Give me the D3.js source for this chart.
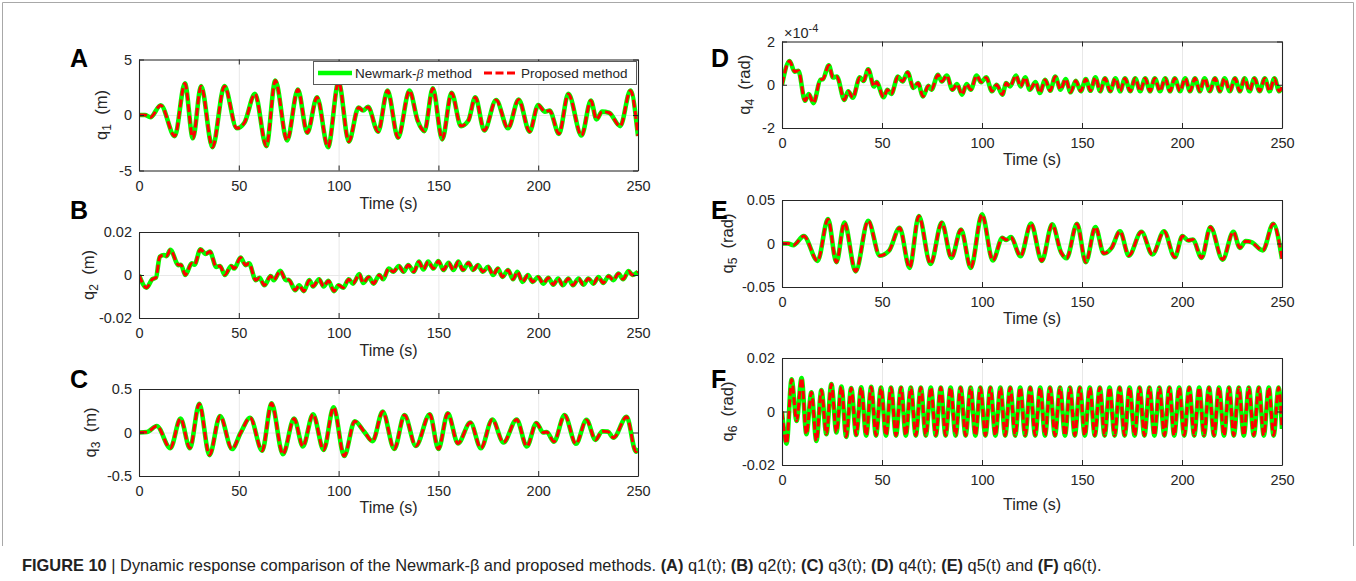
<!DOCTYPE html>
<html><head><meta charset="utf-8">
<script src="https://cdn.jsdelivr.net/npm/d3@7"></script>
<style>
body{margin:0;background:#fff}
svg{display:block}
text{font-family:"Liberation Sans",Arial,Helvetica,sans-serif}
</style>
</head><body>
<svg id="chart" width="1356" height="581"></svg>
<script>
// ---------- DATA ----------
const timeTicks = [0, 50, 100, 150, 200, 250];
const seriesNames = ["Newmark-β method", "Proposed method"];

// [time (s), value] turning points of each response
const q1 = [[0,0],[3,0],[5.7,-0.2],[10.9,0.88],[17.9,-1.9],[23,2.85],[27,-2.1],[31.1,2.6],[36.8,-2.9],[42.8,2.6],[49,-1.2],[52.8,-0.7],[58.1,1.9],[63.8,-2.8],[68.3,3.1],[74.2,-2.3],[79.6,2.3],[84.3,-1.6],[89.2,1.6],[94.7,-2.9],[100,3.0],[105.1,-2.4],[110,0.67],[112.3,0.4],[114.7,0.73],[119.8,-1.5],[124.5,2.2],[129.8,-2.05],[135.5,2.2],[139.6,-0.5],[143,-1.45],[147.2,2.4],[151.9,-2.2],[156.6,2.0],[161.3,-1.0],[165,-0.5],[168.5,1.6],[173,-1.4],[178.9,1.35],[184.9,-1.2],[190.2,1.4],[195.7,-1.5],[200,0.9],[203.4,0.3],[205.7,0.4],[210.4,-1.7],[215.1,1.9],[221.7,-1.85],[226.4,1.3],[229.2,-0.4],[232,0.3],[235.5,0.2],[241.1,-1.0],[246.2,2.2],[250,-1.9]];

const q2 = [[0,0],[3.8,-0.0059],[6.6,-0.002],[8.5,-0.0012],[10.4,0.0085],[12.5,0.0093],[13.8,0.0088],[15.7,0.0117],[19.8,0.0046],[21,0.0048],[23.2,0],[26.4,0.0054],[27.8,0.0048],[30.8,0.012],[33.4,0.0098],[35.5,0.0109],[38.7,0.0038],[40.6,0.0042],[43,0],[46.2,0.0042],[47.7,0.003],[50.9,0.0081],[53.4,0.0046],[55.1,0.0054],[58.5,-0.0024],[60.4,-0.0013],[62.8,-0.0048],[66,-0.0005],[67.5,-0.0024],[70.8,0.002],[73.6,-0.0024],[75,-0.0022],[78.3,-0.0071],[80.2,-0.0048],[82.6,-0.0075],[85.3,-0.0024],[87.2,-0.0053],[90.2,-0.002],[92.5,-0.0053],[94.9,-0.0027],[97.7,-0.0075],[100,-0.0048],[102.3,-0.0059],[105.1,-0.002],[107.2,-0.004],[110.4,0.0004],[112.3,-0.0037],[115.1,-0.0009],[117.5,-0.004],[120.4,0],[122.3,-0.002],[125.1,0.003],[127.4,0.0015],[130.2,0.0042],[132.5,0.0015],[134.9,0.0046],[137.7,0.0015],[140.2,0.0062],[142.5,0.0026],[144.9,0.0062],[147.5,0.003],[150,0.0065],[152.5,0.0023],[155.1,0.0057],[157.5,0.0023],[160,0.0062],[162.3,0.0023],[165.1,0.0057],[167.4,0.0023],[169.8,0.0046],[172.3,0.0015],[174.9,0.0038],[177.4,0],[179.8,0.003],[182.1,-0.0009],[184.9,0.0023],[187.4,-0.002],[189.6,0.0015],[192.1,-0.0032],[194.9,0],[197.2,-0.0032],[200,-0.0009],[202.5,-0.004],[205.1,-0.0013],[207.5,-0.0045],[210,-0.0016],[212.3,-0.0048],[215.1,-0.0016],[217.4,-0.0048],[220.2,-0.0016],[222.6,-0.0045],[225.1,-0.0016],[227.7,-0.004],[230.2,-0.0009],[232.6,-0.0037],[235.3,-0.0005],[237.7,-0.0024],[240.2,0.0007],[242.5,-0.002],[245.3,0.0018],[247.2,0],[250,0.0015]];

const q3 = [[0,0],[4,0.005],[8.9,0.075],[15.7,-0.18],[20.8,0.16],[25.5,-0.18],[30.2,0.33],[35.3,-0.26],[40.6,0.19],[46.6,-0.19],[51,0.0],[55.7,0.17],[61.7,-0.21],[66.4,0.335],[72.1,-0.25],[77.7,0.16],[82.1,-0.16],[87.2,0.21],[92.5,-0.2],[97.5,0.29],[102.8,-0.27],[108.1,0.13],[112.8,0.01],[117,-0.1],[122.1,0.24],[127.9,-0.19],[133,0.2],[138.7,-0.155],[145.7,0.21],[150,-0.19],[154.7,0.22],[159.8,-0.125],[166,0.115],[171.3,-0.18],[177,0.15],[182.6,-0.115],[189.2,0.15],[194.3,-0.16],[199.1,0.11],[202.5,0.0],[204.3,0.005],[207.9,-0.105],[213.2,0.2],[218.9,-0.13],[224.2,0.145],[228.7,-0.085],[232.1,0.015],[234.9,0.01],[237.7,-0.06],[244.3,0.18],[249,-0.22],[250,-0.18]];

// q4 values in units of 1e-4 rad
const q4 = [[0,0],[3.8,1.1],[6.3,0.6],[8.2,0.65],[11.5,-0.74],[13.4,-0.43],[15.7,-0.85],[19.2,0.23],[20.5,0.26],[23.4,0.9],[25.5,0.34],[27.4,0.38],[31.2,-0.7],[33.1,-0.3],[35.4,-0.6],[38.9,0.34],[40.8,0.18],[43.1,0.72],[46,-0.08],[47.3,0.12],[50.8,-0.58],[52.7,-0.23],[54.6,-0.43],[58,0.38],[60.3,0.15],[62.8,0.58],[65.7,-0.15],[68,0.08],[70.5,-0.54],[73.2,-0.05],[74.7,-0.23],[78,0.46],[79.9,0.15],[82.4,0.43],[85.2,-0.23],[87.5,0.03],[90,-0.46],[92.3,0.03],[94.4,-0.23],[97.3,0.42],[99.6,0.12],[102.1,0.34],[105,-0.3],[107.3,0],[110.2,-0.46],[112.1,0.08],[114,-0.08],[117,0.43],[119.3,-0.08],[121.6,0.34],[123.9,-0.23],[126.8,0.12],[128.9,-0.38],[131.6,0.23],[134.1,-0.28],[136.6,0.38],[139.3,-0.23],[141.8,0.26],[144.3,-0.35],[146.9,0.18],[149.4,-0.3],[151.9,0.26],[154.2,-0.28],[156.7,0.34],[159.1,-0.3],[161.5,0.3],[164.1,-0.3],[166.7,0.3],[169.1,-0.3],[171.5,0.3],[174.1,-0.3],[176.6,0.3],[179.1,-0.3],[181.6,0.3],[184,-0.3],[186.4,0.3],[189,-0.3],[191.6,0.3],[194,-0.3],[196.4,0.3],[199,-0.3],[201.6,0.3],[204,-0.3],[206.5,0.3],[208.9,-0.3],[211.3,0.3],[213.9,-0.3],[216.5,0.3],[218.9,-0.3],[221.3,0.3],[223.9,-0.3],[226.5,0.3],[228.9,-0.3],[231.3,0.3],[233.8,-0.3],[236.2,0.3],[238.8,-0.3],[241.4,0.3],[243.8,-0.3],[246.2,0.3],[248.6,-0.3],[250,-0.1]];

const q5 = [[0,0],[3,0],[5.7,-0.002],[10.9,0.0085],[17.8,-0.02],[23,0.028],[27.2,-0.0215],[31.2,0.024],[36.8,-0.032],[43.1,0.026],[48.9,-0.014],[53.6,-0.008],[58.8,0.018],[63.8,-0.028],[68.4,0.0315],[74.3,-0.0235],[79.9,0.024],[84.7,-0.0165],[89.5,0.016],[94.4,-0.028],[100,0.0335],[105.4,-0.0196],[110.2,0.0065],[112.1,0.004],[114.4,0.0073],[119.3,-0.0146],[124.5,0.023],[129.9,-0.02],[135.1,0.022],[139.5,-0.01],[142.3,-0.017],[147.5,0.0227],[151.9,-0.0215],[156.7,0.019],[160.9,-0.0115],[164.8,-0.005],[169,0.014],[173.4,-0.014],[179.7,0.0135],[185.2,-0.0127],[191,0.014],[196.4,-0.0158],[200.2,0.0085],[203.1,0.0035],[205.4,0.0046],[209.8,-0.0165],[214.2,0.019],[220.3,-0.0185],[225.7,0.0135],[228.9,-0.005],[231.8,0.0027],[234.7,0.0015],[240.4,-0.008],[245.6,0.0227],[250,-0.0177]];

const q6 = [[0,0],[2.3,-0.012],[4.8,0.012],[7.3,-0.0035],[9.8,0.0125],[12.2,-0.0085],[14.7,0.0072],[17.2,-0.011],[19.7,0.008],[22.2,-0.0085],[24.7,0.0103],[27.2,-0.0078],[29.7,0.0093],[32.1,-0.0095],[34.6,0.0088],[37.1,-0.0088],[39.6,0.009],[42.1,-0.009],[44.6,0.0092],[47,-0.009],[49.5,0.009],[52,-0.009],[54.5,0.009],[57,-0.009],[59.5,0.009],[61.9,-0.009],[64.4,0.009],[66.9,-0.009],[69.4,0.009],[71.9,-0.009],[74.4,0.009],[76.9,-0.009],[79.4,0.009],[81.8,-0.009],[84.3,0.009],[86.8,-0.009],[89.3,0.009],[91.8,-0.009],[94.3,0.009],[96.7,-0.009],[99.2,0.009],[101.7,-0.009],[104.2,0.009],[106.7,-0.009],[109.2,0.009],[111.6,-0.009],[114.1,0.009],[116.6,-0.009],[119.1,0.009],[121.6,-0.009],[124.1,0.009],[126.6,-0.009],[129.1,0.009],[131.5,-0.009],[134,0.009],[136.5,-0.009],[139,0.009],[141.5,-0.009],[144,0.009],[146.4,-0.009],[148.9,0.009],[151.4,-0.009],[153.9,0.009],[156.4,-0.009],[158.9,0.009],[161.3,-0.009],[163.8,0.009],[166.3,-0.009],[168.8,0.009],[171.3,-0.009],[173.8,0.009],[176.3,-0.009],[178.8,0.009],[181.2,-0.009],[183.7,0.009],[186.2,-0.009],[188.7,0.009],[191.2,-0.009],[193.7,0.009],[196.1,-0.009],[198.6,0.009],[201.1,-0.009],[203.6,0.009],[206.1,-0.009],[208.6,0.009],[211,-0.009],[213.5,0.009],[216,-0.009],[218.5,0.009],[221,-0.009],[223.5,0.009],[225.9,-0.009],[228.4,0.009],[230.9,-0.009],[233.4,0.009],[235.9,-0.009],[238.4,0.009],[240.9,-0.009],[243.4,0.009],[245.8,-0.009],[248.3,0.009],[250,-0.0065]];

// y tick values and labels
const q1Ticks = [-5, 0, 5],          q1Labels = ["-5", "0", "5"];
const q2Ticks = [-0.02, 0, 0.02],    q2Labels = ["-0.02", "0", "0.02"];
const q3Ticks = [-0.5, 0, 0.5],      q3Labels = ["-0.5", "0", "0.5"];
const q4Ticks = [-2, 0, 2],          q4Labels = ["-2", "0", "2"];
const q5Ticks = [-0.05, 0, 0.05],    q5Labels = ["-0.05", "0", "0.05"];
const q6Ticks = [-0.02, 0, 0.02],    q6Labels = ["-0.02", "0", "0.02"];

// ---------- LAYOUT ----------
const svg = d3.select("#chart");
const INK = "#262626";
const panels = [
  {letter:"A", data:q1, ticks:q1Ticks, labels:q1Labels, sub:"1", unit:"(m)",   x0:139, x1:638, y0:59.5, y1:170.5, ylx:101, lx:70,  ly:67,  tOff:33},
  {letter:"B", data:q2, ticks:q2Ticks, labels:q2Labels, sub:"2", unit:"(m)",   x0:139, x1:638, y0:232,  y1:318,   ylx:88,  lx:70,  ly:219, tOff:33},
  {letter:"C", data:q3, ticks:q3Ticks, labels:q3Labels, sub:"3", unit:"(m)",   x0:139, x1:638, y0:389,  y1:476,   ylx:90,  lx:70,  ly:388, tOff:32},
  {letter:"D", data:q4, ticks:q4Ticks, labels:q4Labels, sub:"4", unit:"(rad)", x0:782, x1:1282, y0:41.5, y1:128,  ylx:744, lx:711, ly:67,  tOff:32, exp:true},
  {letter:"E", data:q5, ticks:q5Ticks, labels:q5Labels, sub:"5", unit:"(rad)", x0:782, x1:1282, y0:200,  y1:287,   ylx:727, lx:711, ly:219, tOff:32},
  {letter:"F", data:q6, ticks:q6Ticks, labels:q6Labels, sub:"6", unit:"(rad)", x0:782, x1:1282, y0:358,  y1:465,   ylx:727, lx:711, ly:388, tOff:40}
];

// outer frame
svg.append("path").attr("d","M2.5,546V2.5H1353.5V546").attr("fill","none").attr("stroke","#a8a8a8").attr("stroke-width",1);

panels.forEach((p, i) => {
  const x = d3.scaleLinear().domain([0, 250]).range([p.x0, p.x1]);
  const y = d3.scaleLinear().domain([p.ticks[0], p.ticks[p.ticks.length-1]]).range([p.y1, p.y0]);
  const g = svg.append("g");
  const h = p.y1 - p.y0, w = p.x1 - p.x0;

  // grid
  const gx = g.append("g").attr("transform", `translate(0,${p.y1})`)
    .call(d3.axisBottom(x).tickValues(timeTicks).tickSize(-h).tickFormat(""));
  const gy = g.append("g").attr("transform", `translate(${p.x0},0)`)
    .call(d3.axisLeft(y).tickValues(p.ticks).tickSize(-w).tickFormat(""));
  [gx, gy].forEach(a => { a.select(".domain").remove(); a.selectAll("line").attr("stroke","#e8e8e8").attr("stroke-width",1); });

  // clip
  const cid = "clip" + i;
  svg.append("clipPath").attr("id", cid).append("rect")
    .attr("x", p.x0).attr("y", p.y0).attr("width", w).attr("height", h);

  const line = d3.line().x(d => x(d[0])).y(d => y(d[1])).curve(d3.curveMonotoneX);
  const lg = g.append("g").attr("clip-path", `url(#${cid})`);
  lg.append("path").datum(p.data).attr("d", line).attr("fill","none")
    .attr("stroke","#00ff00").attr("stroke-width",4.6).attr("stroke-linejoin","round");
  lg.append("path").datum(p.data).attr("d", line).attr("fill","none")
    .attr("stroke","#ff0000").attr("stroke-width",3).attr("stroke-dasharray","8,3.5");

  // axes (inward ticks, MATLAB-like box)
  const ax = g.append("g").attr("transform", `translate(0,${p.y1})`)
    .call(d3.axisBottom(x).tickValues(timeTicks).tickSize(-5).tickSizeOuter(0).tickPadding(10).tickFormat(d => String(d)));
  const axT = g.append("g").attr("transform", `translate(0,${p.y0})`)
    .call(d3.axisTop(x).tickValues(timeTicks).tickSize(-5).tickSizeOuter(0).tickFormat(""));
  const ay = g.append("g").attr("transform", `translate(${p.x0},0)`)
    .call(d3.axisLeft(y).tickValues(p.ticks).tickSize(-5).tickSizeOuter(0).tickPadding(7).tickFormat((d, k) => p.labels[k]));
  const ayR = g.append("g").attr("transform", `translate(${p.x1},0)`)
    .call(d3.axisRight(y).tickValues(p.ticks).tickSize(-5).tickSizeOuter(0).tickFormat(""));
  [ax, axT, ay, ayR].forEach(a => {
    a.select(".domain").attr("stroke", INK).attr("stroke-width", 1.1);
    a.selectAll(".tick line").attr("stroke", INK);
    a.selectAll("text").attr("fill", INK).style("font-size","14.5px")
      .style("font-family", '"Liberation Sans", Arial, sans-serif');
  });

  // x label
  g.append("text").attr("x", (p.x0 + p.x1) / 2).attr("y", p.y1 + p.tOff + 5)
    .attr("text-anchor","middle").attr("fill", INK).style("font-size","16px").text("Time (s)");

  // y label
  const yl = g.append("text").attr("transform", `translate(${p.ylx},${(p.y0 + p.y1) / 2}) rotate(-90)`)
    .attr("text-anchor","middle").attr("dy","0.35em").attr("fill", INK).style("font-size","16.5px");
  yl.append("tspan").text("q");
  yl.append("tspan").attr("dy", 4.5).style("font-size","12px").text(p.sub);
  yl.append("tspan").attr("dy", -4.5).text("\u00a0 " + p.unit);

  // exponent
  if (p.exp) {
    const ex = g.append("text").attr("x", p.x0 + 2).attr("y", p.y0 - 4).attr("fill", INK).style("font-size","14.5px");
    ex.append("tspan").text("\u00d710");
    ex.append("tspan").attr("dy", -6).style("font-size","11px").text("-4");
  }

  // panel letter
  g.append("text").attr("x", p.lx).attr("y", p.ly).attr("fill","#000")
    .style("font-size","25px").style("font-weight","bold").text(p.letter);

  // legend (panel A)
  if (i === 0) {
    const L = g.append("g");
    L.append("rect").attr("x", 313.5).attr("y", 61.5).attr("width", 323).attr("height", 23)
      .attr("fill","#fff").attr("stroke","#5a5a5a").attr("stroke-width",1);
    L.append("line").attr("x1",318).attr("x2",352).attr("y1",73).attr("y2",73)
      .attr("stroke","#00ff00").attr("stroke-width",4.6);
    const t1 = L.append("text").attr("x",355).attr("y",78).attr("fill",INK).style("font-size","13.5px");
    t1.append("tspan").text("Newmark-");
    t1.append("tspan").style("font-style","italic").style("font-family",'"Liberation Serif", serif').text("β");
    t1.append("tspan").text(" method");
    L.append("line").attr("x1",484).attr("x2",518).attr("y1",73).attr("y2",73)
      .attr("stroke","#ff0000").attr("stroke-width",3).attr("stroke-dasharray","8,3.5");
    L.append("text").attr("x",521).attr("y",78).attr("fill",INK).style("font-size","13.5px").text(seriesNames[1]);
  }
});

// caption
const capParts = [
  ["FIGURE 10", true], [" | Dynamic response comparison of the Newmark-β and proposed methods. ", false],
  ["(A)", true], [" q1(t); ", false], ["(B)", true], [" q2(t); ", false], ["(C)", true], [" q3(t); ", false],
  ["(D)", true], [" q4(t); ", false], ["(E)", true], [" q5(t) and ", false], ["(F)", true], [" q6(t).", false]
];
const cap = svg.append("text").attr("x", 22).attr("y", 571).attr("fill","#222").style("font-size","14.5px");
capParts.forEach(([t, b]) => cap.append("tspan").style("font-weight", b ? "bold" : "normal").text(t));
const cl = cap.node().getComputedTextLength();
if (cl > 0) cap.style("font-size", (14.5 * 1080 / cl).toFixed(2) + "px");
</script>
</body></html>
